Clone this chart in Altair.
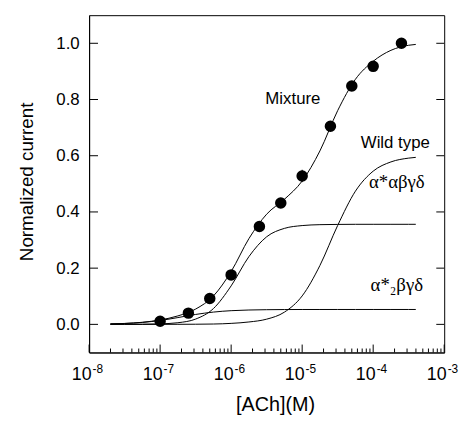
import json
import altair as alt
import pandas as pd

# ---------------- data ----------------
# measured points (Mixture)
point_conc = [1e-7, 2.5e-7, 5e-7, 1e-6, 2.5e-6, 5e-6, 1e-5, 2.5e-5, 5e-5, 1e-4, 2.5e-4]
point_value = [0.011, 0.040, 0.092, 0.176, 0.348, 0.432, 0.528, 0.705, 0.848, 0.918, 1.0]
err_conc = [1e-5]
err_value = [0.528]
err_half = [0.022]

# fitted curves, sampled at log10 concentration
curve_log = [-7.7, -7.5, -7.25, -7.0, -6.75, -6.5, -6.25, -6.0, -5.75, -5.5,
             -5.25, -5.0, -4.75, -4.5, -4.25, -4.0, -3.75, -3.5, -3.4]
mixture_curve = [0.0017, 0.0033, 0.0074, 0.0157, 0.0301, 0.0544, 0.1008, 0.1881, 0.305, 0.392,
                 0.445, 0.510, 0.6171, 0.7605, 0.872, 0.936, 0.975, 0.993, 0.996]
wildtype_curve = [0.0, 0.0, 0.0, 0.0001, 0.0002, 0.0005, 0.0012, 0.0035, 0.0085, 0.0185,
                  0.0435, 0.1012, 0.2095, 0.3519, 0.4739, 0.5451, 0.578, 0.5915, 0.5942]
a1_curve = [0.0001, 0.0002, 0.0005, 0.0018, 0.0058, 0.0188, 0.0561, 0.137, 0.241, 0.3116,
            0.3415, 0.3515, 0.3547, 0.3556, 0.356, 0.356, 0.356, 0.356, 0.356]
a2_curve = [0.0016, 0.0031, 0.0069, 0.0138, 0.0242, 0.0353, 0.0437, 0.0487, 0.0511, 0.0522,
            0.0527, 0.0529, 0.0529, 0.053, 0.053, 0.053, 0.053, 0.053, 0.053]

# annotations
sans_labels = ["Mixture", "Wild type"]
sans_conc = [7.4e-6, 2.05e-4]
sans_value = [0.80, 0.645]
serif_labels = ["α*αβγδ", "α*₂βγδ"]
serif_conc = [2.15e-4, 2.15e-4]
serif_value = [0.505, 0.14]

# axes
x_tick_values = [1e-8, 1e-7, 1e-6, 1e-5, 1e-4, 1e-3]
x_tick_base = ["10", "10", "10", "10", "10", "10"]
x_tick_exponents = ["-8", "-7", "-6", "-5", "-4", "-3"]
x_minor_ticks = [m * 10.0 ** k for k in range(-8, -3) for m in range(2, 10)]
y_tick_values = [0.0, 0.2, 0.4, 0.6, 0.8, 1.0]

# ---------------- chart ----------------
W, H = 359, 341
FONT = "Liberation Sans"
SERIF = "Liberation Serif"

x_scale = alt.Scale(type="log", domain=[1e-8, 1e-3])
y_scale = alt.Scale(domain=[-0.1, 1.1], nice=False, zero=False)

rows = []
for name, vals in [("Mixture", mixture_curve), ("Wild type", wildtype_curve),
                   ("a1", a1_curve), ("a2", a2_curve)]:
    for lg, v in zip(curve_log, vals):
        rows.append({"series": name, "conc": 10.0 ** lg, "value": v})
curves_df = pd.DataFrame(rows)


def idx_expr(labels):
    return "{}[round(log(datum.value)/LN10)+8]".format(json.dumps(labels, ensure_ascii=False))


x_axis = alt.Axis(values=x_tick_values, labelExpr=idx_expr(x_tick_base), ticks=False, tickSize=0,
                  labelPadding=27, labelBaseline="alphabetic", labelAlign="right", labelOffset=2,
                  labelFont=FONT, labelFontSize=18, labelColor="black",
                  labelFlush=False, labelOverlap=False, grid=False,
                  domainColor="black", title="[ACh](M)", titleFont=FONT, titleFontSize=20,
                  titleFontWeight="normal", titleColor="black", titleBaseline="alphabetic",
                  titleX=188, titleY=59)
x_axis_exp = alt.Axis(orient="bottom", values=x_tick_values, labelExpr=idx_expr(x_tick_exponents),
                      ticks=False, tickSize=0, domain=False, grid=False,
                      labelPadding=20, labelBaseline="alphabetic", labelAlign="left", labelOffset=3,
                      labelFont=FONT, labelFontSize=12, labelColor="black",
                      labelFlush=False, labelOverlap=False, title="")
y_axis = alt.Axis(values=y_tick_values, format=".1f", ticks=False, tickSize=0,
                  labelPadding=10, labelFont=FONT, labelFontSize=17, labelColor="black",
                  labelFlush=False, grid=False, domainColor="black",
                  title="Normalized current", titleFont=FONT, titleFontSize=19,
                  titleFontWeight="normal", titleColor="black", titleAngle=270,
                  titleBaseline="alphabetic", titleAlign="center", titleX=-57, titleY=168)


def X(field):
    return alt.X(field, scale=x_scale, axis=x_axis)


def Y(field):
    return alt.Y(field, scale=y_scale, axis=y_axis)


lines = alt.Chart(curves_df).mark_line(interpolate="monotone", color="black", strokeWidth=1).encode(
    x=X("conc:Q"), y=Y("value:Q"), detail="series:N", order="conc:Q",
)

pts_df = pd.DataFrame({"conc": point_conc, "value": point_value})
points = alt.Chart(pts_df).mark_circle(size=135, color="black", opacity=1).encode(
    x=X("conc:Q"), y=Y("value:Q"),
)

err_df = pd.DataFrame({"conc": err_conc,
                       "value": [v - e for v, e in zip(err_value, err_half)],
                       "hi": [v + e for v, e in zip(err_value, err_half)]})
errbar = alt.Chart(err_df).mark_rule(color="black", strokeWidth=1).encode(
    x=X("conc:Q"), y=Y("value:Q"), y2="hi:Q",
)

sans_df = pd.DataFrame({"conc": sans_conc, "value": sans_value, "label": sans_labels})
sans_text = alt.Chart(sans_df).mark_text(font=FONT, fontSize=17, color="black",
                                         align="center", baseline="middle").encode(
    x=X("conc:Q"), y=Y("value:Q"), text="label:N",
)
serif_df = pd.DataFrame({"conc": serif_conc, "value": serif_value, "label": serif_labels})
serif_text = alt.Chart(serif_df).mark_text(font=SERIF, fontSize=19, color="black",
                                           align="center", baseline="middle").encode(
    x=X("conc:Q"), y=Y("value:Q"), text="label:N",
)

ytick_df = pd.DataFrame({"value": y_tick_values})
left_ticks = alt.Chart(ytick_df).mark_rule(color="black", strokeWidth=1).encode(
    y=Y("value:Q"), x=alt.value(0), x2=alt.value(9))
right_ticks = alt.Chart(ytick_df).mark_rule(color="black", strokeWidth=1).encode(
    y=Y("value:Q"), x=alt.value(W - 8), x2=alt.value(W))

major_df = pd.DataFrame({"conc": x_tick_values})
major_ticks = alt.Chart(major_df).mark_rule(color="black", strokeWidth=1).encode(
    x=X("conc:Q"), y=alt.value(H), y2=alt.value(H - 8))
minor_df = pd.DataFrame({"conc": x_minor_ticks})
minor_ticks = alt.Chart(minor_df).mark_rule(color="black", strokeWidth=1).encode(
    x=X("conc:Q"), y=alt.value(H), y2=alt.value(H - 4))

main = alt.layer(
    lines, errbar, points, sans_text, serif_text,
    left_ticks, right_ticks, major_ticks, minor_ticks,
)

# second bottom axis carrying the small raised exponents of the tick labels
exp_layer = alt.Chart(major_df).mark_rule(opacity=0).encode(
    x=alt.X("conc:Q", scale=x_scale, axis=x_axis_exp),
)

chart = alt.layer(main, exp_layer).resolve_axis(x="independent").properties(
    width=W, height=H,
    autosize=alt.AutoSizeParams(type="none"),
    padding={"left": 82, "top": 5, "right": 18, "bottom": 66},
    background="white",
).configure_view(stroke="black", strokeWidth=1)

chart.save("out.html", embed_options={"renderer": "svg", "actions": False})
